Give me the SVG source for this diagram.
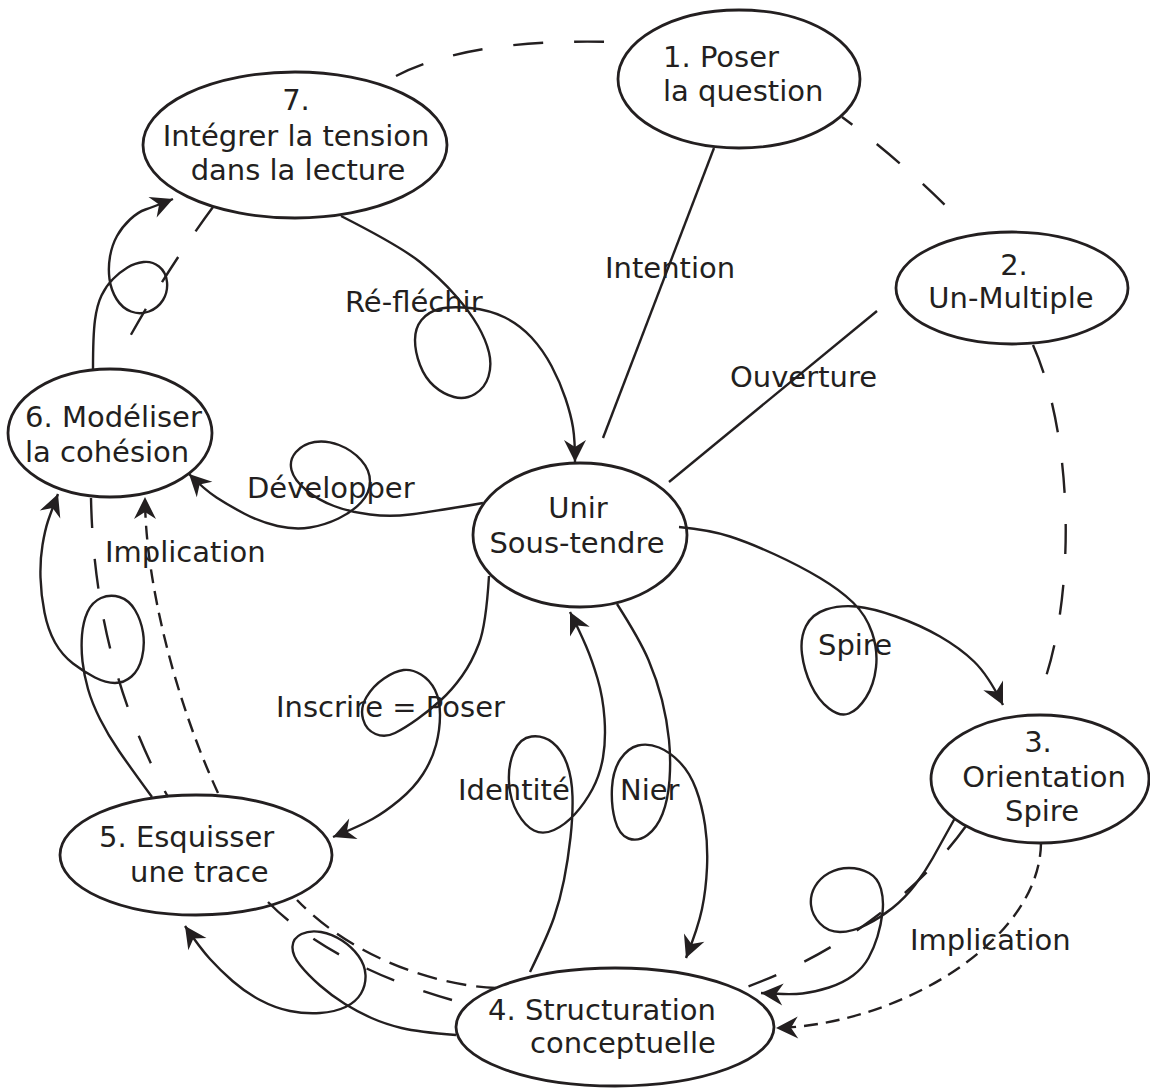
<svg xmlns="http://www.w3.org/2000/svg" width="1150" height="1088" viewBox="0 0 1150 1088">
<style>
.node ellipse{fill:#fff;stroke:#231f20;stroke-width:2.8}
text{font-family:"DejaVu Sans",Verdana,sans-serif;font-size:29px;fill:#231f20}
.c{text-anchor:middle}
.edges path{fill:none;stroke:#231f20;stroke-width:2.4}
.edges .ld{stroke-dasharray:30 31}
.edges .sd{stroke-dasharray:14 8}
.edges .md{stroke-dasharray:20 10}
.arr{marker-end:url(#ah)}
</style>
<defs>
<marker id="ah" viewBox="-24 -13 26 26" refX="0" refY="0" markerWidth="26" markerHeight="26" markerUnits="userSpaceOnUse" orient="auto">
<path d="M0,0 L-22,-11 L-15,0 L-22,11 Z" fill="#231f20"/>
</marker>
</defs>

<g id="nodes">
<g id="n1" class="node"><ellipse cx="739" cy="79" rx="121" ry="69"/><text x="663" y="67">1. Poser</text><text x="663" y="101">la question</text></g>
<g id="n2" class="node"><ellipse cx="1012" cy="288" rx="116" ry="56"/><text class="c" x="1014" y="275">2.</text><text class="c" x="1011" y="308">Un-Multiple</text></g>
<g id="n3" class="node"><ellipse cx="1040" cy="779" rx="109" ry="64"/><text class="c" x="1038" y="752">3.</text><text class="c" x="1044" y="787">Orientation</text><text class="c" x="1042" y="821">Spire</text></g>
<g id="n4" class="node"><ellipse cx="615" cy="1027" rx="159" ry="59"/><text x="488" y="1020">4. Structuration</text><text x="530" y="1053">conceptuelle</text></g>
<g id="n5" class="node"><ellipse cx="196" cy="855" rx="136" ry="60"/><text x="99" y="847">5. Esquisser</text><text x="130" y="882">une trace</text></g>
<g id="n6" class="node"><ellipse cx="110" cy="433" rx="102" ry="64"/><text x="25" y="427">6. Modéliser</text><text x="25" y="462">la cohésion</text></g>
<g id="n7" class="node"><ellipse cx="295" cy="145" rx="152" ry="73"/><text class="c" x="296" y="110">7.</text><text class="c" x="296" y="146">Intégrer la tension</text><text class="c" x="298" y="180">dans la lecture</text></g>
<g id="n0" class="node"><ellipse cx="580" cy="535" rx="107" ry="72"/><text class="c" x="578" y="518">Unir</text><text class="c" x="577" y="553">Sous-tendre</text></g>
</g>

<g id="connectors" class="edges">
<path class="ld" d="M396,76 Q470,38 614,42"/>
<path class="ld" d="M842,117 Q900,160 952,212" style="stroke-dashoffset:17"/>
<path class="ld" d="M1033,345 C1075,440 1075,600 1042,688"/>
<path class="ld" d="M966,826 C920,890 840,955 738,990"/>
<path class="ld" d="M452,1000 C380,980 310,945 268,902"/>
<path class="ld" d="M91,498 C93,600 115,700 168,797"/>
<path class="ld" d="M213,207 Q168,268 128,340"/>
<path class="md" d="M496,988 C430,985 350,955 297,900"/>
<path class="sd arr" d="M218,793 C175,700 145,580 145,497"/>
<path class="sd arr" d="M1041,843 C1040,940 900,1025 776,1028"/>
<path d="M714,148 L603,438"/>
<path d="M877,311 L669,482"/>
<path class="arr" d="M341,216 Q400,246 420,262 Q440,278 455,295 Q470,312 478,326 Q486,340 489,352.5 Q492,365 488.5,376.5 Q485,388 475,394 Q465,400 454,397 Q443,394 434,386 Q425,378 420,365 Q415,352 415,340 Q415,328 421.5,320 Q428,312 439,309 Q450,306 470,308 Q490,310 505,317.5 Q520,325 531.5,337.5 Q543,350 551.5,366 Q560,382 565.5,398.5 Q571,415 573,427.5 Q575,440 575,462"/>
<path class="arr" d="M483,503 Q430,512 410,514.5 Q390,517 370,514.5 Q350,512 334,506 Q318,500 306,490 Q294,480 291.5,470 Q289,460 296,452 Q303,444 314.5,442 Q326,440 339,445 Q352,450 361,460 Q370,470 370,481.5 Q370,493 361,502.5 Q352,512 338.5,518.5 Q325,525 310,527.5 Q295,530 277.5,526 Q260,522 244,513.5 Q228,505 216.5,497.5 Q205,490 189,474"/>
<path class="arr" d="M93,369 Q93,335 95,320 Q97,305 101.5,295.5 Q106,286 113,279 Q120,272 127.5,267.5 Q135,263 143.5,262 Q152,261 159,266.5 Q166,272 167,282 Q168,292 163,300 Q158,308 149,311.5 Q140,315 131,311.5 Q122,308 116.5,299 Q111,290 109.5,279 Q108,268 110,256.5 Q112,245 117,236 Q122,227 130,219.5 Q138,212 145.5,209.5 Q153,207 173,199"/>
<path class="arr" d="M152,797 Q130,767 119,751 Q108,735 100,719 Q92,703 88,689 Q84,675 82.5,661.5 Q81,648 82,635 Q83,622 87.5,612 Q92,602 101,598 Q110,594 119.5,597 Q129,600 135,610 Q141,620 143,632.5 Q145,645 142,657.5 Q139,670 131.5,676.5 Q124,683 115,683 Q106,683 95,677.5 Q84,672 73,663.5 Q62,655 55,642.5 Q48,630 44.5,612.5 Q41,595 40.5,577.5 Q40,560 42.5,545 Q45,530 48,521 Q51,512 58,494"/>
<path class="arr" d="M955,818 Q940,845 932.5,858.5 Q925,872 915,885 Q905,898 892.5,908 Q880,918 866,925 Q852,932 840,932 Q828,932 820,923.5 Q812,915 811,905 Q810,895 815,886.5 Q820,878 829,873 Q838,868 849,868 Q860,868 869,873 Q878,878 881,889 Q884,900 882.5,912.5 Q881,925 877.5,936.5 Q874,948 868.5,958 Q863,968 853,975.5 Q843,983 829,987.5 Q815,992 802.5,993.5 Q790,995 761,993"/>
<path class="arr" d="M456,1035 Q418,1032 401.5,1028 Q385,1024 371.5,1018 Q358,1012 345,1004 Q332,996 320,985.5 Q308,975 300,965 Q292,955 292.5,946.5 Q293,938 301.5,934 Q310,930 321,932 Q332,934 342,940.5 Q352,947 358.5,956 Q365,965 365.5,975 Q366,985 361,993.5 Q356,1002 345.5,1007 Q335,1012 320,1013 Q305,1014 290,1011 Q275,1008 260,1000 Q245,992 232.5,981 Q220,970 210,959 Q200,948 185,926"/>
<path class="arr" d="M530,972 Q548,935 554,917.5 Q560,900 564,880 Q568,860 570.5,837.5 Q573,815 572.5,796.5 Q572,778 567,764 Q562,750 552.5,742.5 Q543,735 531.5,736.5 Q520,738 514,751.5 Q508,765 509,782.5 Q510,800 517.5,813 Q525,826 534,830.5 Q543,835 554,830 Q565,825 575,814 Q585,803 592.5,789 Q600,775 603,757.5 Q606,740 604.5,718.5 Q603,697 597.5,678.5 Q592,660 586,646 Q580,632 570,612"/>
<path class="arr" d="M617,604 Q640,640 648.5,660 Q657,680 662,700 Q667,720 669,740 Q671,760 669.5,780 Q668,800 662.5,814 Q657,828 647.5,835 Q638,842 628.5,838.5 Q619,835 615,820 Q611,805 612,787.5 Q613,770 620.5,759 Q628,748 638,745.5 Q648,743 659,747.5 Q670,752 680,762.5 Q690,773 696,789 Q702,805 705,825 Q708,845 707,867.5 Q706,890 702,909 Q698,928 686,958"/>
<path class="arr" d="M679,527 Q710,530 730,536.5 Q750,543 775,554.5 Q800,566 820,578 Q840,590 853,602.5 Q866,615 872,632.5 Q878,650 876,667.5 Q874,685 866,697.5 Q858,710 849,713.5 Q840,717 829,708.5 Q818,700 811,685 Q804,670 802,654 Q800,638 806,626 Q812,614 826,609.5 Q840,605 856,606.5 Q872,608 896,616.5 Q920,625 940,636.5 Q960,648 974,661.5 Q988,675 1003,705"/>
<path class="arr" d="M489,576 Q486,625 479,643.5 Q472,662 462,676 Q452,690 441,700 Q430,710 417.5,719 Q405,728 395,733 Q385,738 375.5,734 Q366,730 363,719 Q360,708 366.5,697 Q373,686 384,678.5 Q395,671 403.5,670 Q412,669 421,674.5 Q430,680 435,690 Q440,700 440,715 Q440,730 436,745 Q432,760 423,774 Q414,788 399.5,800 Q385,812 372.5,819 Q360,826 333,837"/>
</g>

<g id="labels">
<text x="605" y="278">Intention</text>
<text x="730" y="387">Ouverture</text>
<text x="345" y="312">Ré-fléchir</text>
<text x="247" y="498">Développer</text>
<text x="105" y="562">Implication</text>
<text x="818" y="655">Spire</text>
<text x="276" y="717">Inscrire = Poser</text>
<text x="458" y="800">Identité</text>
<text x="620" y="800">Nier</text>
<text x="910" y="950">Implication</text>
</g>
</svg>
